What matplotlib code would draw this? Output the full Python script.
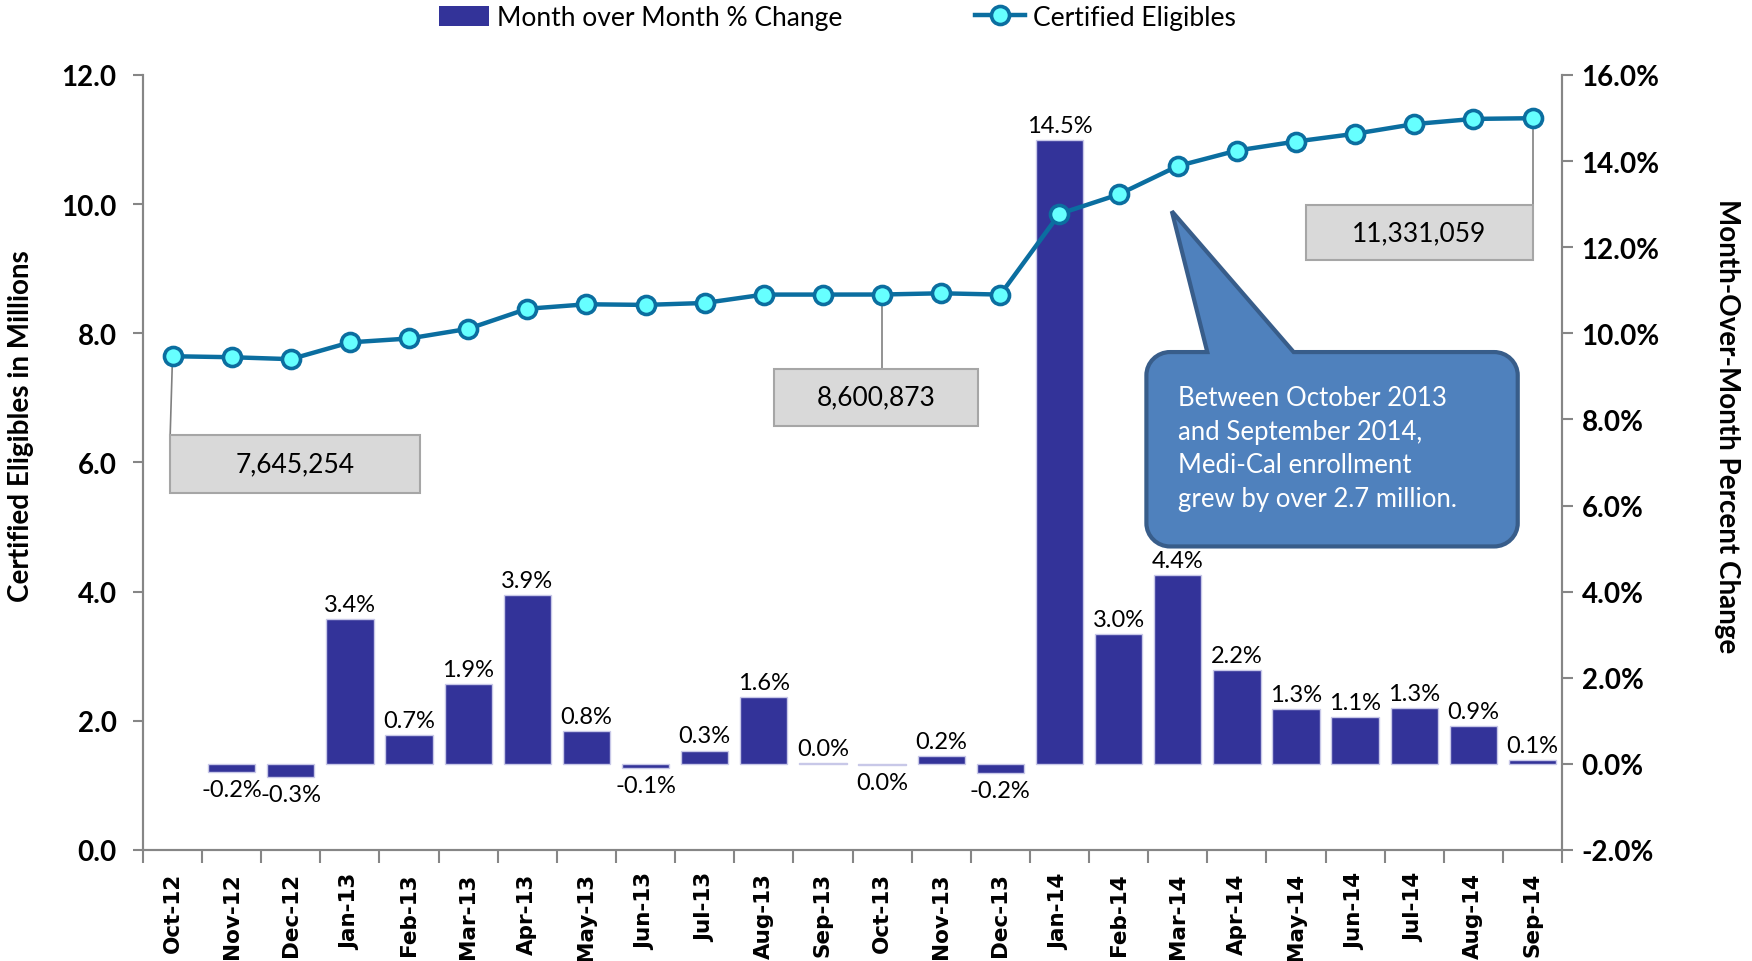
import numpy as np
import matplotlib
matplotlib.use("Agg")
import matplotlib.pyplot as plt
from matplotlib.path import Path
from matplotlib.patches import PathPatch, Rectangle
from matplotlib.lines import Line2D
from matplotlib.ticker import FixedLocator, FuncFormatter

# ---------------- data ----------------
months = ["Oct-12", "Nov-12", "Dec-12", "Jan-13", "Feb-13", "Mar-13", "Apr-13", "May-13",
          "Jun-13", "Jul-13", "Aug-13", "Sep-13", "Oct-13", "Nov-13", "Dec-13", "Jan-14",
          "Feb-14", "Mar-14", "Apr-14", "May-14", "Jun-14", "Jul-14", "Aug-14", "Sep-14"]
# month-over-month % change (no value for first month)
mom_change = [np.nan, -0.18, -0.31, 3.36, 0.67, 1.86, 3.92, 0.76, -0.10, 0.31, 1.56, 0.02,
              -0.02, 0.18, -0.21, 14.48, 3.01, 4.38, 2.18, 1.27, 1.09, 1.30, 0.88, 0.08]
# certified eligibles, millions
eligibles = [7.645254, 7.63, 7.60, 7.86, 7.92, 8.07, 8.38, 8.45, 8.44, 8.47, 8.60, 8.60,
             8.600873, 8.62, 8.60, 9.85, 10.15, 10.59, 10.83, 10.97, 11.09, 11.24, 11.32, 11.331059]
callout_labels = ["7,645,254", "8,600,873", "11,331,059"]
callout_idx = [0, 12, 23]
note_text = ("Between October 2013\nand September 2014,\n"
             "Medi-Cal enrollment\ngrew by over 2.7 million.")

# ---------------- style ----------------
FONT = "Lato"
BAR_C = "#333399"
LINE_C = "#0b6ea0"
MARK_C = "#66ffff"
GRID_C = "#868686"

fig = plt.figure(figsize=(17.52, 9.62), dpi=100)
ax1 = fig.add_axes([0.0816, 0.1154, 0.81, 0.8056])
ax2 = ax1.twinx()

x = np.arange(len(months))

# bars on right axis
ax2.bar(x, mom_change, width=0.8, color=BAR_C, edgecolor="#c8c8e8", linewidth=1.0, zorder=2)
ax2.set_ylim(-2, 16)
ax2.yaxis.set_major_locator(FixedLocator(np.arange(-2, 16.1, 2)))
ax2.yaxis.set_major_formatter(FuncFormatter(lambda v, p: f"{v:.1f}%"))
for xi, v in zip(x, mom_change):
    if np.isnan(v):
        continue
    txt = f"{v:.1f}%".replace("-0.0%", "0.0%")
    if v >= 0:
        ax2.annotate(txt, (xi, v), xytext=(0, 3), textcoords="offset points",
                     ha="center", va="bottom", fontsize=17, family=FONT)
    else:
        ax2.annotate(txt, (xi, v), xytext=(0, -5), textcoords="offset points",
                     ha="center", va="top", fontsize=17, family=FONT)

# line on left axis
ax1.set_zorder(ax2.get_zorder() + 1)
ax1.patch.set_visible(False)
ax1.plot(x, eligibles, color=LINE_C, lw=3.2, marker="o", markersize=13,
         markerfacecolor=MARK_C, markeredgecolor=LINE_C, markeredgewidth=2.6, zorder=5)
ax1.set_ylim(0, 12)
ax1.set_xlim(-0.5, len(months) - 0.5)
ax1.yaxis.set_major_locator(FixedLocator(np.arange(0, 12.1, 2)))
ax1.yaxis.set_major_formatter(FuncFormatter(lambda v, p: f"{v:.1f}"))

# x ticks: labels at categories, tick marks at boundaries
ax1.set_xticks(x)
ax1.set_xticklabels(months, rotation=90, fontsize=15.5, fontweight="bold", family="DejaVu Sans")
ax1.set_xticks(np.arange(-0.5, len(months)), minor=True)
ax1.tick_params(axis="x", which="major", length=0, pad=16)
ax1.tick_params(axis="x", which="minor", length=9, color=GRID_C, width=1.5)
ax1.tick_params(axis="y", length=7, color=GRID_C, width=1.5, pad=12)
ax2.tick_params(axis="y", length=8, color=GRID_C, width=1.5, pad=6)
for lab in ax1.get_yticklabels():
    lab.set_fontsize(20); lab.set_fontweight("bold"); lab.set_family(FONT)
for lab in ax2.get_yticklabels():
    lab.set_fontsize(20); lab.set_fontweight("bold"); lab.set_family(FONT)

for ax in (ax1, ax2):
    ax.spines["top"].set_visible(False)
    for s in ("left", "right", "bottom"):
        ax.spines[s].set_color(GRID_C)
        ax.spines[s].set_linewidth(1.5)

ax1.set_ylabel("Certified Eligibles in Millions", fontsize=20, fontweight="bold", family=FONT,
               va="center")
ax1.yaxis.set_label_coords(-0.086, 0.548)
ax2.set_ylabel("Month-Over-Month Percent Change", fontsize=20, fontweight="bold", family=FONT,
               rotation=270, va="center")
ax2.yaxis.set_label_coords(1.116, 0.548)

# value boxes with connectors
box_specs = [(-0.04, 4.19, 5.53, 6.42), (10.17, 13.62, 6.57, 7.45), (19.17, 23.0, 9.13, 9.98)]
conn_x = [-0.04, 12, 23.0]
for (bx0, bx1, by0, by1), lbl, idx, cx in zip(box_specs, callout_labels, callout_idx, conn_x):
    ax1.plot([idx, cx], [eligibles[idx], by1], color="#808080", lw=1.2, zorder=4)
    ax1.add_patch(Rectangle((bx0, by0), bx1 - bx0, by1 - by0, facecolor="#d9d9d9",
                            edgecolor="#a6a6a6", lw=1.5, zorder=6))
    ax1.text((bx0 + bx1) / 2, (by0 + by1) / 2, lbl, ha="center", va="center",
             fontsize=19, family=FONT, zorder=7)

# speech-bubble callout
x0, x1, y0, y1 = 16.47, 22.75, 4.70, 7.71
rx, ry = 0.40, 0.36
tx0, tx1, tipx, tipy = 17.5, 18.96, 16.9, 9.89
k = 0.5523
verts = [
    (x0 + rx, y1), (tx0, y1), (tipx, tipy), (tx1, y1), (x1 - rx, y1),
    (x1 - rx + k * rx, y1), (x1, y1 - ry + k * ry), (x1, y1 - ry),
    (x1, y0 + ry),
    (x1, y0 + ry - k * ry), (x1 - rx + k * rx, y0), (x1 - rx, y0),
    (x0 + rx, y0),
    (x0 + rx - k * rx, y0), (x0, y0 + ry - k * ry), (x0, y0 + ry),
    (x0, y1 - ry),
    (x0, y1 - ry + k * ry), (x0 + rx - k * rx, y1), (x0 + rx, y1),
    (x0 + rx, y1),
]
codes = [Path.MOVETO, Path.LINETO, Path.LINETO, Path.LINETO, Path.LINETO,
         Path.CURVE4, Path.CURVE4, Path.CURVE4,
         Path.LINETO,
         Path.CURVE4, Path.CURVE4, Path.CURVE4,
         Path.LINETO,
         Path.CURVE4, Path.CURVE4, Path.CURVE4,
         Path.LINETO,
         Path.CURVE4, Path.CURVE4, Path.CURVE4,
         Path.CLOSEPOLY]
ax1.add_patch(PathPatch(Path(verts, codes), facecolor="#4f81bd", edgecolor="#385d8a",
                        lw=3, zorder=8))
ax1.text(x0 + 0.53, (y0 + y1) / 2 + 0.02, note_text, ha="left", va="center", color="white",
         fontsize=18.5, family=FONT, linespacing=1.43, zorder=9)

# legend
h_bar = Rectangle((0, 0), 1, 1, facecolor=BAR_C, edgecolor="none")
h_line = Line2D([], [], color=LINE_C, lw=3.2, marker="o", markersize=13,
                markerfacecolor=MARK_C, markeredgecolor=LINE_C, markeredgewidth=2.6)
fig.legend([h_bar, h_line], ["Month over Month % Change", "Certified Eligibles"],
           loc="center", bbox_to_anchor=(0.478, 0.981), ncol=2, frameon=False,
           prop={"family": FONT, "size": 19}, handlelength=1.9, handletextpad=0.3,
           columnspacing=5.0, handleheight=0.8)

fig.savefig("out.png", dpi=100)
